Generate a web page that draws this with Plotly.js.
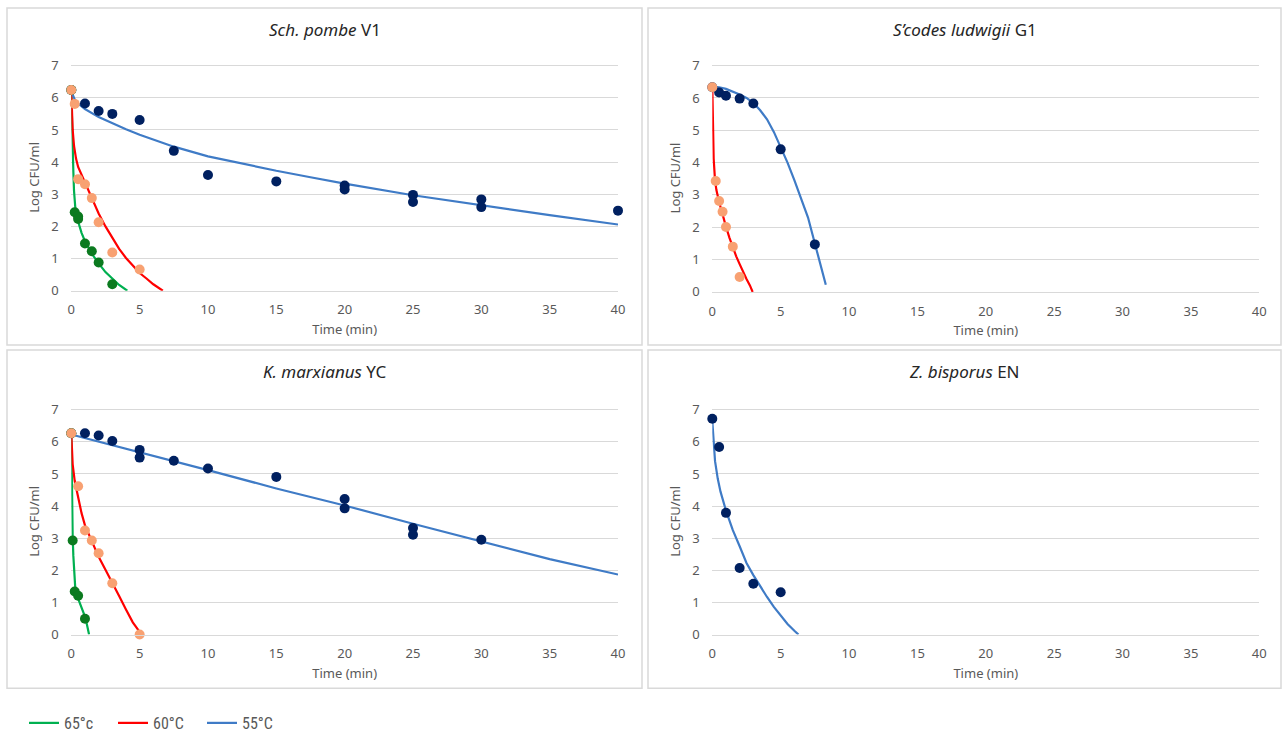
<!DOCTYPE html>
<html>
<head>
<meta charset="utf-8">
<script src="https://cdn.plot.ly/plotly-3.0.1.min.js"></script>
<style>html,body{margin:0;padding:0;background:#fff;}#chart{width:1283px;height:740px;}</style>
</head>
<body>
<div id="chart"></div>
<script>
// ---------- Panel titles ----------
const panelTitles = ['<i>Sch. pombe</i> V1', '<i>S’codes ludwigii</i> G1', '<i>K. marxianus</i> YC', '<i>Z. bisporus</i> EN'];
const legendNames = ['65°c', '60°C', '55°C'];

// ---------- Panel 1: Sch. pombe V1 ----------
const p1_55_pts_x = [0, 1, 2, 3, 5, 7.5, 10, 15, 20, 20, 25, 25, 30, 30, 40];
const p1_55_pts_y = [6.24, 5.82, 5.59, 5.5, 5.31, 4.35, 3.6, 3.4, 3.27, 3.15, 2.98, 2.76, 2.84, 2.6, 2.49];
const p1_60_pts_x = [0, 0.25, 0.5, 1, 1.5, 2, 3, 5];
const p1_60_pts_y = [6.24, 5.81, 3.47, 3.31, 2.88, 2.13, 1.19, 0.66];
const p1_65_pts_x = [0, 0.25, 0.5, 0.5, 1, 1.5, 2, 3];
const p1_65_pts_y = [6.24, 2.44, 2.31, 2.23, 1.47, 1.23, 0.88, 0.2];
const p1_55_fit_x = [0, 0.25, 0.5, 1, 2, 3, 4, 5, 7.5, 10, 12.5, 15, 17.5, 20, 25, 30, 35, 40];
const p1_55_fit_y = [6.2, 5.95, 5.82, 5.65, 5.4, 5.2, 5.02, 4.85, 4.48, 4.18, 3.95, 3.73, 3.53, 3.33, 2.97, 2.65, 2.35, 2.06];
const p1_60_fit_x = [0, 0.05, 0.1, 0.2, 0.35, 0.5, 0.75, 1, 1.5, 2, 2.5, 3, 3.5, 4, 4.5, 5, 5.5, 6, 6.7];
const p1_60_fit_y = [6.2, 5.4, 5.0, 4.5, 4.1, 3.85, 3.6, 3.37, 2.88, 2.4, 2.0, 1.65, 1.3, 1.02, 0.78, 0.55, 0.38, 0.2, 0];
const p1_65_fit_x = [0, 0.03, 0.06, 0.1, 0.15, 0.2, 0.3, 0.5, 0.75, 1, 1.5, 2, 2.5, 3, 3.5, 4.1];
const p1_65_fit_y = [6.2, 5.5, 5.0, 4.4, 3.7, 3.1, 2.55, 2.15, 1.8, 1.54, 1.15, 0.85, 0.58, 0.38, 0.18, 0];

// ---------- Panel 2: S'codes ludwigii G1 ----------
const p2_55_pts_x = [0, 0.5, 1, 2, 3, 5, 7.5];
const p2_55_pts_y = [6.33, 6.17, 6.07, 5.98, 5.83, 4.41, 1.47];
const p2_60_pts_x = [0, 0.25, 0.5, 0.75, 1, 1.5, 2];
const p2_60_pts_y = [6.33, 3.43, 2.81, 2.48, 2.01, 1.4, 0.46];
const p2_55_fit_x = [0, 0.5, 1, 1.5, 2, 2.5, 3, 3.5, 4, 4.5, 5, 5.5, 6, 6.5, 7, 7.5, 8, 8.3];
const p2_55_fit_y = [6.35, 6.33, 6.28, 6.2, 6.11, 6.0, 5.85, 5.62, 5.34, 4.95, 4.5, 4.0, 3.46, 2.9, 2.3, 1.5, 0.7, 0.22];
const p2_60_fit_x = [0, 0.02, 0.05, 0.1, 0.2, 0.3, 0.5, 0.75, 1, 1.25, 1.5, 1.75, 2, 2.25, 2.5, 2.75, 2.95];
const p2_60_fit_y = [6.35, 5.45, 4.8, 4.12, 3.45, 3.15, 2.78, 2.38, 2.02, 1.68, 1.37, 1.1, 0.86, 0.62, 0.4, 0.2, 0];

// ---------- Panel 3: K. marxianus YC ----------
const p3_55_pts_x = [0, 1, 2, 3, 5, 5, 7.5, 10, 15, 20, 20, 25, 25, 30];
const p3_55_pts_y = [6.27, 6.27, 6.2, 6.03, 5.75, 5.51, 5.41, 5.17, 4.91, 4.22, 3.93, 3.32, 3.11, 2.95];
const p3_60_pts_x = [0, 0.5, 1, 1.5, 2, 3, 5];
const p3_60_pts_y = [6.27, 4.62, 3.24, 2.93, 2.53, 1.6, 0];
const p3_65_pts_x = [0, 0.1, 0.25, 0.5, 1];
const p3_65_pts_y = [6.27, 2.93, 1.34, 1.21, 0.49];
const p3_55_fit_x = [0, 5, 10, 15, 20, 25, 30, 35, 40];
const p3_55_fit_y = [6.23, 5.68, 5.12, 4.55, 4.02, 3.45, 2.9, 2.35, 1.87];
const p3_60_fit_x = [0, 0.05, 0.1, 0.25, 0.5, 0.75, 1, 1.5, 2, 2.5, 3, 3.5, 4, 4.5, 5];
const p3_60_fit_y = [6.25, 5.7, 5.3, 4.78, 4.27, 3.78, 3.4, 2.93, 2.42, 2.02, 1.63, 1.2, 0.78, 0.38, 0.08];
const p3_65_fit_x = [0, 0.02, 0.05, 0.1, 0.15, 0.2, 0.3, 0.5, 0.75, 1, 1.15, 1.3];
const p3_65_fit_y = [6.25, 5.4, 4.3, 3.05, 2.45, 1.95, 1.38, 1.12, 0.85, 0.56, 0.3, 0];

// ---------- Panel 4: Z. bisporus EN ----------
const p4_55_pts_x = [0, 0.5, 1, 2, 3, 5];
const p4_55_pts_y = [6.72, 5.84, 3.79, 2.07, 1.58, 1.32];
const p4_55_fit_x = [0, 0.1, 0.2, 0.4, 0.6, 1, 1.5, 2, 2.5, 3, 3.5, 4, 4.5, 5, 5.5, 6, 6.3];
const p4_55_fit_y = [6.65, 5.9, 5.4, 4.85, 4.45, 3.86, 3.25, 2.75, 2.23, 1.85, 1.49, 1.17, 0.86, 0.6, 0.33, 0.12, 0];

// ---------- styling ----------
const C_NAVY = '#002060', C_ORANGE = '#F8A172', C_GREEN_PT = '#0B7A1F';
const C_GREEN = '#00B050', C_RED = '#FF0000', C_BLUE = '#3F7BC6';
const FONT = 'Noto Sans, Open Sans, sans-serif';

function line(x, y, color, ax, name, show) {
  return {x: x, y: y, type: 'scatter', mode: 'lines', line: {color: color, width: 2.2},
          xaxis: ax[0], yaxis: ax[1], name: name || '', showlegend: !!show, hoverinfo: 'skip', cliponaxis: false};
}
function pts(x, y, color, ax) {
  return {x: x, y: y, type: 'scatter', mode: 'markers', marker: {color: color, size: 10},
          xaxis: ax[0], yaxis: ax[1], showlegend: false, hoverinfo: 'skip', cliponaxis: false};
}
const A1 = ['x', 'y'], A2 = ['x2', 'y2'], A3 = ['x3', 'y3'], A4 = ['x4', 'y4'];

const data = [
  line(p1_65_fit_x, p1_65_fit_y, C_GREEN, A1, legendNames[0], true),
  line(p1_60_fit_x, p1_60_fit_y, C_RED, A1, legendNames[1], true),
  line(p1_55_fit_x, p1_55_fit_y, C_BLUE, A1, legendNames[2], true),
  pts(p1_55_pts_x, p1_55_pts_y, C_NAVY, A1),
  pts(p1_65_pts_x, p1_65_pts_y, C_GREEN_PT, A1),
  pts(p1_60_pts_x, p1_60_pts_y, C_ORANGE, A1),

  line(p2_60_fit_x, p2_60_fit_y, C_RED, A2),
  line(p2_55_fit_x, p2_55_fit_y, C_BLUE, A2),
  pts(p2_55_pts_x, p2_55_pts_y, C_NAVY, A2),
  pts(p2_60_pts_x, p2_60_pts_y, C_ORANGE, A2),

  line(p3_65_fit_x, p3_65_fit_y, C_GREEN, A3),
  line(p3_60_fit_x, p3_60_fit_y, C_RED, A3),
  line(p3_55_fit_x, p3_55_fit_y, C_BLUE, A3),
  pts(p3_55_pts_x, p3_55_pts_y, C_NAVY, A3),
  pts(p3_65_pts_x, p3_65_pts_y, C_GREEN_PT, A3),
  pts(p3_60_pts_x, p3_60_pts_y, C_ORANGE, A3),

  line(p4_55_fit_x, p4_55_fit_y, C_BLUE, A4),
  pts(p4_55_pts_x, p4_55_pts_y, C_NAVY, A4)
];

const W = 1283, H = 740;
const px = v => v / W, py = v => 1 - v / H;
const Y_TOP = 7.05;   // a little headroom so the gridline at 7 is drawn

function xAx(d0, d1, anchor) {
  return {domain: [px(d0), px(d1)], anchor: anchor, range: [0, 40], tick0: 0, dtick: 5,
          showgrid: false, zeroline: false, showline: true, linecolor: '#D9D9D9', linewidth: 1,
          ticks: 'outside', ticklen: 7, tickcolor: 'rgba(0,0,0,0)',
          tickfont: {family: FONT, size: 13, color: '#595959'},
          title: {text: 'Time (min)', font: {family: FONT, size: 13, color: '#595959'}, standoff: 7},
          fixedrange: true};
}
// top = pixel of value 7, bot = pixel of value 0
function yAx(top, bot, anchor) {
  const topPx = bot - (bot - top) * Y_TOP / 7;
  return {domain: [py(bot), py(topPx)], anchor: anchor, range: [0, Y_TOP], tick0: 0, dtick: 1,
          showgrid: true, gridcolor: '#D9D9D9', gridwidth: 1, zeroline: false, showline: false,
          ticks: 'outside', ticklen: 9, tickcolor: 'rgba(0,0,0,0)',
          tickfont: {family: FONT, size: 13, color: '#595959'},
          title: {text: 'Log CFU/ml', font: {family: FONT, size: 13, color: '#595959'}, standoff: 8},
          fixedrange: true};
}

const boxes = [[7, 8, 642, 347], [648, 8, 1281, 347], [7, 352, 642, 692], [648, 352, 1281, 692]];
const shapes = boxes.map(b => ({type: 'rect', xref: 'paper', yref: 'paper',
  x0: px(b[0]), x1: px(b[2]), y0: py(b[3]), y1: py(b[1]), line: {color: '#D9D9D9', width: 1.5}, layer: 'below'}));

const titleCenters = [[324.5, 30], [964.5, 30], [324.5, 374], [964.5, 374]];
const annotations = titleCenters.map((c, i) => ({xref: 'paper', yref: 'paper', x: px(c[0]), y: py(c[1]),
  xanchor: 'center', yanchor: 'middle', showarrow: false, text: panelTitles[i],
  font: {family: FONT, size: 17, color: '#262626'}}));

const layout = {
  width: W, height: H, margin: {l: 0, r: 0, t: 0, b: 0},
  paper_bgcolor: '#fff', plot_bgcolor: 'rgba(0,0,0,0)',
  xaxis: xAx(71.3, 618, 'y'), yaxis: yAx(66, 292.3, 'x'),
  xaxis2: xAx(712.3, 1259.3, 'y2'), yaxis2: yAx(66, 293.5, 'x2'),
  xaxis3: xAx(71.3, 618, 'y3'), yaxis3: yAx(412, 638, 'x3'),
  xaxis4: xAx(712.3, 1259.3, 'y4'), yaxis4: yAx(412, 638, 'x4'),
  shapes: shapes, annotations: annotations,
  showlegend: true,
  legend: {orientation: 'h', x: px(24), y: py(744), xanchor: 'left', yanchor: 'bottom',
           font: {family: 'Liberation Sans Narrow, Roboto Condensed, Liberation Sans, sans-serif', size: 16, color: '#595959'},
           bgcolor: 'rgba(0,0,0,0)', itemwidth: 30, entrywidth: 44, entrywidthmode: 'pixels', traceorder: 'normal'}
};

Plotly.newPlot('chart', data, layout, {displayModeBar: false, staticPlot: true});
</script>
</body>
</html>
